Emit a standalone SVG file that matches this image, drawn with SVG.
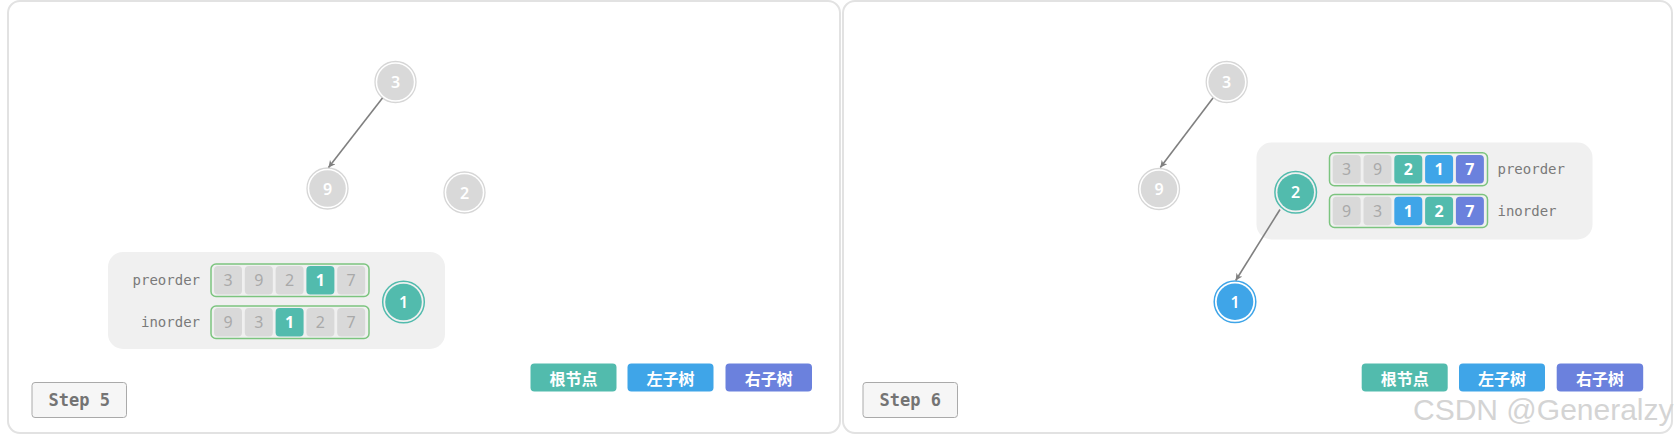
<svg xmlns="http://www.w3.org/2000/svg" width="1677" height="441" viewBox="0 0 1677 441">
<style>
.panel{fill:#ffffff;stroke:#e2e2e2;stroke-width:2}
.box{fill:#f0f0f0}
.lbl{font-family:"DejaVu Sans Mono","Liberation Mono",monospace;font-size:14px;fill:#7a7a7a}
.outl{fill:none;stroke:#7cc47f;stroke-width:1.5}
.cell{fill:#d9d9d9}
.ct{font-family:"Noto Sans","DejaVu Sans",sans-serif;font-size:16px;fill:#a9a9a9;text-anchor:middle;dominant-baseline:central}
.cw{font-family:"Noto Sans","DejaVu Sans",sans-serif;font-size:16px;font-weight:bold;fill:#ffffff;text-anchor:middle;dominant-baseline:central}
.teal{fill:#52bbad}
.blue{fill:#3fa5e8}
.purp{fill:#6b81dd}
.ng{fill:#d9d9d9}
.ngr{fill:none;stroke:#d6d6d6;stroke-width:1.3}
.ntr{fill:none;stroke:#52bbad;stroke-width:1.5}
.nbr{fill:none;stroke:#3fa5e8;stroke-width:1.5}
.nt{font-family:"Noto Sans","DejaVu Sans",sans-serif;font-size:16px;font-weight:600;fill:#ffffff;text-anchor:middle;dominant-baseline:central}
.edge{stroke:#808080;stroke-width:1.6;fill:none}
.leg{font-family:"Noto Sans CJK SC","Noto Sans",sans-serif;font-size:16px;font-weight:bold;fill:#ffffff;text-anchor:middle;dominant-baseline:central}
.step{fill:#f6f6f6;stroke:#aaaaaa;stroke-width:1}
.stept{font-family:"DejaVu Sans Mono","Liberation Mono",monospace;font-size:17px;font-weight:bold;fill:#747474;text-anchor:middle;dominant-baseline:central}
.wm{font-family:"Liberation Sans","Noto Sans",sans-serif;font-size:30px;fill:#d4d4d4}
</style>
<defs>
<marker id="arr" viewBox="0 0 10 10" refX="10" refY="5" markerWidth="7" markerHeight="7" orient="auto" markerUnits="userSpaceOnUse">
<path d="M0,0 L10,5 L0,10 L3,5 z" fill="#808080"/>
</marker>
</defs>
<rect x="0" y="0" width="1677" height="441" fill="#ffffff"/>
<rect class="panel" x="8" y="1" width="832" height="432" rx="12"/>
<rect class="panel" x="843" y="1" width="829" height="432" rx="12"/>

<!-- Panel 1 -->
<g id="p1-box">
<rect class="box" x="108" y="252" width="337" height="97" rx="15"/>
<text class="lbl" x="200" y="280" text-anchor="end" dominant-baseline="central">preorder</text>
<text class="lbl" x="200" y="321.5" text-anchor="end" dominant-baseline="central">inorder</text>
<rect class="outl" x="211" y="264" width="158" height="32.5" rx="5"/>
<rect class="cell" x="214" y="266" width="28" height="28.5" rx="4"/><text class="ct" x="228" y="280.2">3</text>
<rect class="cell" x="244.8" y="266" width="28" height="28.5" rx="4"/><text class="ct" x="258.8" y="280.2">9</text>
<rect class="cell" x="275.6" y="266" width="28" height="28.5" rx="4"/><text class="ct" x="289.6" y="280.2">2</text>
<rect class="teal" x="306.4" y="266" width="28" height="28.5" rx="4"/><text class="cw" x="320.4" y="280.2">1</text>
<rect class="cell" x="337.2" y="266" width="28" height="28.5" rx="4"/><text class="ct" x="351.2" y="280.2">7</text>
<rect class="outl" x="211" y="306" width="158" height="32.5" rx="5"/>
<rect class="cell" x="214" y="308" width="28" height="28.5" rx="4"/><text class="ct" x="228" y="322.2">9</text>
<rect class="cell" x="244.8" y="308" width="28" height="28.5" rx="4"/><text class="ct" x="258.8" y="322.2">3</text>
<rect class="teal" x="275.6" y="308" width="28" height="28.5" rx="4"/><text class="cw" x="289.6" y="322.2">1</text>
<rect class="cell" x="306.4" y="308" width="28" height="28.5" rx="4"/><text class="ct" x="320.4" y="322.2">2</text>
<rect class="cell" x="337.2" y="308" width="28" height="28.5" rx="4"/><text class="ct" x="351.2" y="322.2">7</text>
</g>
<g id="p1-n3"><circle class="ngr" cx="395.5" cy="82" r="20.5"/><circle class="ng" cx="395.5" cy="82" r="18.3"/><text class="nt" x="395.5" y="82">3</text></g>
<g id="p1-n9"><circle class="ngr" cx="327.5" cy="188.5" r="20.5"/><circle class="ng" cx="327.5" cy="188.5" r="18.3"/><text class="nt" x="327.5" y="188.5">9</text></g>
<g id="p1-n2"><circle class="ngr" cx="464.5" cy="192.5" r="20.5"/><circle class="ng" cx="464.5" cy="192.5" r="18.3"/><text class="nt" x="464.5" y="192.5">2</text></g>
<g id="p1-n1"><circle class="ntr" cx="403.5" cy="302" r="20.8"/><circle class="teal" cx="403.5" cy="302" r="18.3"/><text class="nt" x="403.5" y="302">1</text></g>
<g id="p1-legend">
<rect class="teal" x="530.5" y="363.5" width="86" height="28" rx="4"/><text class="leg" x="573.5" y="377.5">根节点</text>
<rect class="blue" x="627.5" y="363.5" width="86" height="28" rx="4"/><text class="leg" x="670.5" y="377.5">左子树</text>
<rect class="purp" x="725.5" y="363.5" width="86.5" height="28" rx="4"/><text class="leg" x="768.7" y="377.5">右子树</text>
</g>
<g id="p1-step"><rect class="step" x="32" y="382.5" width="94.5" height="35" rx="3"/><text class="stept" x="79.3" y="400">Step 5</text></g>

<!-- Panel 2 -->
<g id="p2-box">
<rect class="box" x="1256.5" y="142.5" width="336" height="97" rx="15"/>
<rect class="outl" x="1329.5" y="152.7" width="158" height="33" rx="5"/>
<rect class="cell" x="1332.7" y="155" width="28" height="28.5" rx="4"/><text class="ct" x="1346.7" y="169.2">3</text>
<rect class="cell" x="1363.5" y="155" width="28" height="28.5" rx="4"/><text class="ct" x="1377.5" y="169.2">9</text>
<rect class="teal" x="1394.3" y="155" width="28" height="28.5" rx="4"/><text class="cw" x="1408.3" y="169.2">2</text>
<rect class="blue" x="1425.1" y="155" width="28" height="28.5" rx="4"/><text class="cw" x="1439.1" y="169.2">1</text>
<rect class="purp" x="1455.9" y="155" width="28" height="28.5" rx="4"/><text class="cw" x="1469.9" y="169.2">7</text>
<rect class="outl" x="1329.5" y="194.5" width="158" height="33" rx="5"/>
<rect class="cell" x="1332.7" y="196.8" width="28" height="28.5" rx="4"/><text class="ct" x="1346.7" y="211">9</text>
<rect class="cell" x="1363.5" y="196.8" width="28" height="28.5" rx="4"/><text class="ct" x="1377.5" y="211">3</text>
<rect class="blue" x="1394.3" y="196.8" width="28" height="28.5" rx="4"/><text class="cw" x="1408.3" y="211">1</text>
<rect class="teal" x="1425.1" y="196.8" width="28" height="28.5" rx="4"/><text class="cw" x="1439.1" y="211">2</text>
<rect class="purp" x="1455.9" y="196.8" width="28" height="28.5" rx="4"/><text class="cw" x="1469.9" y="211">7</text>
<text class="lbl" x="1497.5" y="169" dominant-baseline="central">preorder</text>
<text class="lbl" x="1497.5" y="210.5" dominant-baseline="central">inorder</text>
</g>
<g id="p2-n3"><circle class="ngr" cx="1226.7" cy="82" r="20.5"/><circle class="ng" cx="1226.7" cy="82" r="18.3"/><text class="nt" x="1226.7" y="82">3</text></g>
<g id="p2-n9"><circle class="ngr" cx="1159" cy="189" r="20.5"/><circle class="ng" cx="1159" cy="189" r="18.3"/><text class="nt" x="1159" y="189">9</text></g>
<g id="p2-n2"><circle class="ntr" cx="1295.7" cy="192.3" r="20.8"/><circle class="teal" cx="1295.7" cy="192.3" r="18.3"/><text class="nt" x="1295.7" y="192.3">2</text></g>
<g id="p2-n1"><circle class="nbr" cx="1235" cy="301.7" r="20.8"/><circle class="blue" cx="1235" cy="301.7" r="18.3"/><text class="nt" x="1235" y="301.7">1</text></g>
<g id="p2-legend">
<rect class="teal" x="1361.7" y="363.5" width="86" height="28" rx="4"/><text class="leg" x="1404.7" y="377.5">根节点</text>
<rect class="blue" x="1459" y="363.5" width="86" height="28" rx="4"/><text class="leg" x="1502" y="377.5">左子树</text>
<rect class="purp" x="1556.7" y="363.5" width="86.5" height="28" rx="4"/><text class="leg" x="1600" y="377.5">右子树</text>
</g>
<g id="p2-step"><rect class="step" x="863" y="382.5" width="94.5" height="35" rx="3"/><text class="stept" x="910.3" y="400">Step 6</text></g>

<g id="connectors">
<line class="edge" x1="382.5" y1="98" x2="328.5" y2="167.5" marker-end="url(#arr)"/>
<line class="edge" x1="1213" y1="98" x2="1160.3" y2="167.5" marker-end="url(#arr)"/>
<line class="edge" x1="1280" y1="209.5" x2="1235.7" y2="280.5" marker-end="url(#arr)"/>
</g>

<text class="wm" x="1413" y="420">CSDN @Generalzy</text>
</svg>
